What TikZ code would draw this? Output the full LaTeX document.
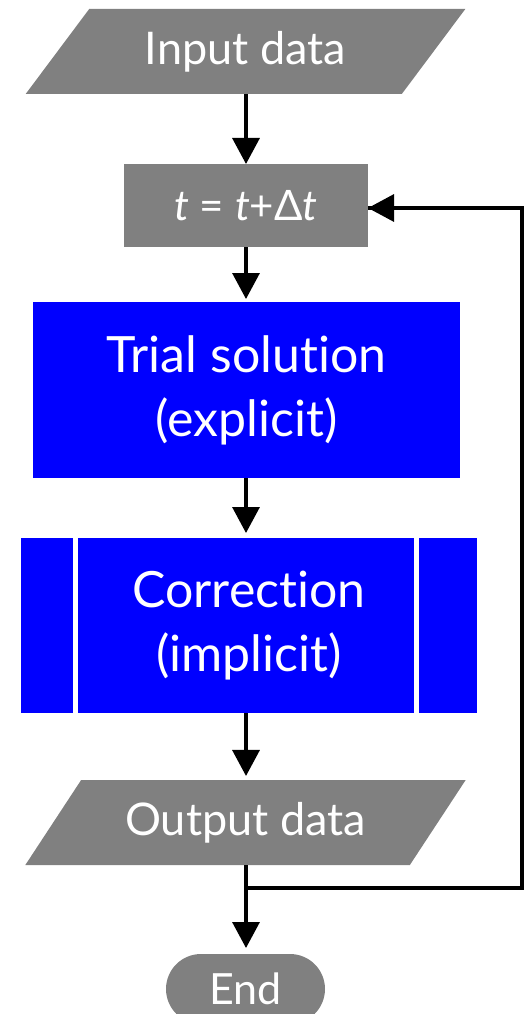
\documentclass[tikz,border=0pt]{standalone}
\usepackage{fontspec}
\setmainfont[Ligatures={NoCommon}]{Lato}
\usetikzlibrary{shapes.geometric,arrows.meta}
\definecolor{boxgray}{HTML}{808080}
\definecolor{boxblue}{HTML}{0000FF}
\begin{document}
\begin{tikzpicture}[x=1pt,y=-1pt,
  every node/.style={inner sep=0pt,outer sep=0pt,text=white,align=center},
  big/.style={font=\fontsize{50}{64}\selectfont},
  iobox/.style={trapezium,trapezium left angle=45,trapezium right angle=135,
     trapezium stretches=true,fill=boxgray,minimum width=441pt,minimum height=85pt,
     font=\fontsize{45}{54}\selectfont},
  graybox/.style={rectangle,fill=boxgray,minimum width=244pt,minimum height=83pt,
     font=\fontsize{42}{50}\selectfont},
  bluebox/.style={rectangle,fill=boxblue,minimum height=176pt,big},
  endbox/.style={rectangle,rounded corners=35pt,fill=boxgray,minimum width=159pt,
     minimum height=70pt,font=\fontsize{43}{52}\selectfont},
  flow/.style={line width=3.3pt,-{Triangle[width=27pt,length=26pt]}},
  plain/.style={line width=3.3pt}]
\useasboundingbox (0,0) rectangle (530,1014);
\node[iobox] (in) at (245.5,51.5) {Input data};
\node[graybox] (t) at (246,205.5) {\textit{t} = \textit{t}+Δ\textit{t}};
\node[bluebox,minimum width=427pt] (trial) at (246.5,390) {Trial solution\\(explicit)};
\node[bluebox,minimum width=456pt,minimum height=175pt] (corr) at (249,625.5) {Correction\\(implicit)};
\draw[white,line width=5pt] ([xshift=54.5pt]corr.north west) -- ([xshift=54.5pt]corr.south west);
\draw[white,line width=5pt] ([xshift=-60.5pt]corr.north east) -- ([xshift=-60.5pt]corr.south east);
\node[iobox] (out) at (245.5,822.5) {Output data};
\node[endbox] (end) at (245.5,989) {End};
\coordinate (br) at (246,888);
\coordinate (rb) at (522,888);
\coordinate (rt) at (522,208);
\draw[flow] (in.south -| t.north) -- (t.north);
\draw[flow] (t.south) -- ([yshift=3pt]trial.north -| t.south);
\draw[flow] (trial.south -| t.south) -- ([yshift=5pt]corr.north -| t.south);
\draw[flow] (corr.south -| t.south) -- ([yshift=4pt]out.north -| t.south);
\draw[flow] (out.south -| br) -- ([yshift=6pt]end.north -| br);
\draw[plain,line join=miter] (br) -- (rb) -- (rt) -- (t.east |- rt);
\draw[flow] ([xshift=-1pt]rt) -- (t.east |- rt);
\end{tikzpicture}
\end{document}
